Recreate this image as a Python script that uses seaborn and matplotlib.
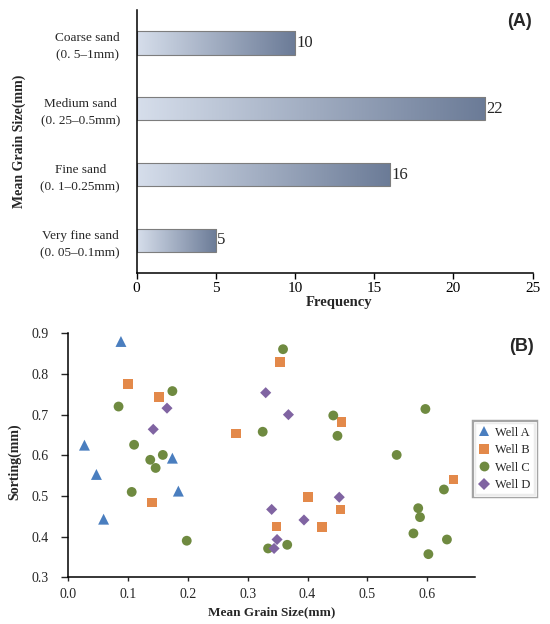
import matplotlib
matplotlib.use("Agg")
import matplotlib.pyplot as plt
import matplotlib.patheffects as pe
from matplotlib.colors import LinearSegmentedColormap
from matplotlib.lines import Line2D
from matplotlib.ticker import FormatStrFormatter
import numpy as np
import pandas as pd
import seaborn as sns

# (A) grain size classes and counts
grain_classes = ["Coarse sand\n(0. 5–1mm)", "Medium sand\n(0. 25–0.5mm)",
                 "Fine sand\n(0. 1–0.25mm)", "Very fine sand\n(0. 05–0.1mm)"]
frequency = [10, 22, 16, 5]

# (B) mean grain size vs sorting, per well
wells = ["Well A", "Well B", "Well C", "Well D"]
well_a_size = [0.088, 0.027, 0.047, 0.059, 0.174, 0.184]
well_a_sort = [0.880, 0.625, 0.553, 0.443, 0.593, 0.512]
well_b_size = [0.100, 0.152, 0.140, 0.280, 0.354, 0.348, 0.401, 0.424, 0.457, 0.455, 0.644]
well_b_sort = [0.775, 0.743, 0.484, 0.654, 0.830, 0.425, 0.497, 0.424, 0.682, 0.467, 0.541]
well_c_size = [0.084, 0.174, 0.110, 0.137, 0.158, 0.146, 0.106, 0.198, 0.325, 0.359, 0.334,
               0.366, 0.443, 0.450, 0.597, 0.549, 0.628, 0.585, 0.588, 0.577, 0.633, 0.602]
well_c_sort = [0.720, 0.758, 0.626, 0.589, 0.601, 0.569, 0.510, 0.390, 0.658, 0.861, 0.371,
               0.380, 0.698, 0.648, 0.714, 0.601, 0.516, 0.470, 0.448, 0.408, 0.393, 0.357]
well_d_size = [0.142, 0.165, 0.330, 0.368, 0.340, 0.349, 0.344, 0.394, 0.453]
well_d_sort = [0.664, 0.716, 0.754, 0.700, 0.467, 0.393, 0.371, 0.441, 0.497]

well_colors = {"Well A": "#4a7ebf", "Well B": "#e3894a", "Well C": "#6f8a40", "Well D": "#8064a2"}
well_markers = {"Well A": "^", "Well B": "s", "Well C": "o", "Well D": "D"}
well_sizes = {"Well A": 62, "Well B": 48, "Well C": 50, "Well D": 32}

sns.set_style("white")
plt.rcParams["font.family"] = ["Liberation Serif", "DejaVu Serif"]

bars = pd.DataFrame({"cls": grain_classes, "freq": frequency})
pts = pd.concat([
    pd.DataFrame({"size": xs, "sort": ys, "well": w})
    for w, xs, ys in zip(wells,
                         [well_a_size, well_b_size, well_c_size, well_d_size],
                         [well_a_sort, well_b_sort, well_c_sort, well_d_sort])
], ignore_index=True)

fig = plt.figure(figsize=(5.5, 6.24), dpi=100)
ax1 = fig.add_axes([0.2485, 0.562, 0.7197, 0.422])
ax2 = fig.add_axes([0.1242, 0.0748, 0.7395, 0.391])

# ---- (A) bar chart with gradient fill
sns.barplot(data=bars, x="freq", y="cls", orient="h", width=0.355,
            color="#a0aec4", ax=ax1)
xl, yl = (0, 25), ax1.get_ylim()
cmap = LinearSegmentedColormap.from_list("bluegray", ["#d6deeb", "#6b7b97"])
grad = np.linspace(0, 1, 256).reshape(1, -1)
for p in ax1.patches:
    x0, y0 = p.get_x(), p.get_y()
    w, h = p.get_width(), p.get_height()
    im = ax1.imshow(grad, extent=[x0, x0 + w, y0, y0 + h], aspect="auto",
                    cmap=cmap, zorder=1.5)
    im.set_clip_path(p)
    p.set_facecolor("none")
    p.set_edgecolor("#7d7d7d")
    p.set_linewidth(0.8)
    p.set_zorder(2)
ax1.set_xlim(*xl)
ax1.set_ylim(*yl)
ax1.bar_label(ax1.containers[0], padding=1, fontsize=12)

ax1.set_xticks([0, 5, 10, 15, 20, 25])
sns.despine(ax=ax1)
for s in ["left", "bottom"]:
    ax1.spines[s].set_color("black")
    ax1.spines[s].set_linewidth(1.1)
ax1.tick_params(axis="x", direction="out", length=4, width=1, pad=2, labelsize=11,
                bottom=True, colors="black")
ax1.tick_params(axis="y", length=0, pad=12, labelsize=9.5)
for lab in ax1.get_yticklabels():
    lab.set_multialignment("center")
    lab.set_linespacing(1.55)
ax1.set_xlabel("Frequency", fontsize=10.5, fontweight="bold")
ax1.set_ylabel("Mean Grain Size(mm)", fontsize=10, fontweight="bold")
ax1.xaxis.set_label_coords(0.51, -0.109)
ax1.xaxis.label.set_va("center")
ax1.yaxis.set_label_coords(-0.297, 0.5)
ax1.yaxis.label.set_va("center")

# ---- (B) scatter
sns.scatterplot(data=pts, x="size", y="sort", hue="well", style="well", size="well",
                palette=well_colors, markers=well_markers, sizes=well_sizes,
                linewidth=0, alpha=1, legend=False, ax=ax2, zorder=3)
ax2.set_xlim(0, 0.68)
ax2.set_ylim(0.3, 0.9)
ax2.set_xticks(np.arange(0, 0.61, 0.1))
ax2.set_yticks(np.arange(0.3, 0.91, 0.1))
ax2.xaxis.set_major_formatter(FormatStrFormatter("%.1f"))
ax2.yaxis.set_major_formatter(FormatStrFormatter("%.1f"))
sns.despine(ax=ax2)
for s in ["left", "bottom"]:
    ax2.spines[s].set_color("black")
    ax2.spines[s].set_linewidth(1.1)
ax2.tick_params(axis="x", direction="out", length=3, width=1, pad=5, labelsize=10,
                bottom=True)
ax2.tick_params(axis="y", direction="out", length=5, width=1, pad=9, labelsize=10,
                left=True)
ax2.set_xlabel("Mean Grain Size(mm)", fontsize=9.5, fontweight="bold")
ax2.set_ylabel("Sorting(mm)", fontsize=10, fontweight="bold")
ax2.xaxis.set_label_coords(0.5, -0.143)
ax2.xaxis.label.set_va("center")
ax2.yaxis.set_label_coords(-0.131, 0.473)
ax2.yaxis.label.set_va("center")

handles = [Line2D([], [], linestyle="none", marker=well_markers[w], color=well_colors[w],
                  markeredgewidth=0, markersize=np.sqrt(well_sizes[w])) for w in wells]
leg = fig.legend(handles, wells, loc="upper left", bbox_to_anchor=(0.862, 0.3245),
                 bbox_transform=fig.transFigure, fontsize=9, frameon=True,
                 fancybox=False, handlelength=0.8, handletextpad=0.5,
                 labelspacing=0.45, borderpad=0.4, borderaxespad=0)
frame = leg.get_frame()
frame.set_edgecolor("white")
frame.set_linewidth(0.8)
frame.set_path_effects([pe.Stroke(linewidth=3.2, foreground="#8c8c8c"), pe.Normal()])

fig.text(0.945, 0.965, "(A)", fontsize=13, fontweight="bold",
         family="Liberation Sans", ha="center", va="center")
fig.text(0.9485, 0.4444, "(B)", fontsize=13, fontweight="bold",
         family="Liberation Sans", ha="center", va="center")

fig.savefig("out.png", dpi=100)
